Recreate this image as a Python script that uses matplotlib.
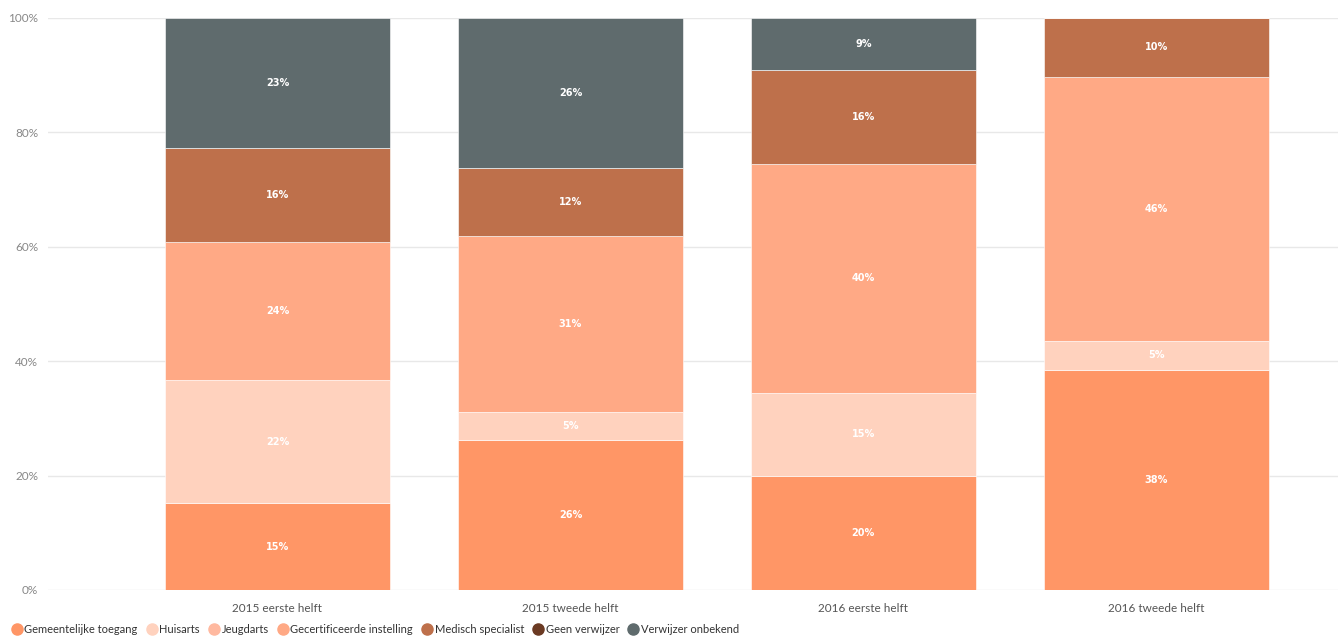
import matplotlib.pyplot as plt
from matplotlib.lines import Line2D
import numpy as np

plt.rcParams['font.family'] = ['Lato', 'DejaVu Sans']

# Data (shares per period, in %)
periods = ['2015 eerste helft', '2015 tweede helft', '2016 eerste helft', '2016 tweede helft']
series = ['Gemeentelijke toegang', 'Huisarts', 'Jeugdarts', 'Gecertificeerde instelling',
          'Medisch specialist', 'Geen verwijzer', 'Verwijzer onbekend']
gemeentelijke = [15.2, 26.2, 19.9, 38.5]
huisarts = [21.5, 4.9, 14.6, 5.0]
jeugdarts = [0, 0, 0, 0]
gecertificeerd = [24.1, 30.8, 40.0, 46.2]
medisch = [16.4, 11.9, 16.4, 10.3]
geen = [0, 0, 0, 0]
onbekend = [22.8, 26.2, 9.1, 0]
values = [gemeentelijke, huisarts, jeugdarts, gecertificeerd, medisch, geen, onbekend]

colors = ['#FF9666', '#FFD2BE', '#FFB9A0', '#FFA985', '#BE704B', '#6B3A23', '#5F6B6D']

fig = plt.figure(figsize=(13.38, 6.37), dpi=100)
ax = fig.add_axes([48 / 1338, 47 / 637, 1290 / 1338, 572 / 637])

x = np.arange(len(periods))
bottom = np.zeros(len(periods))
for vals, col in zip(values, colors):
    vals = np.array(vals, dtype=float)
    ax.bar(x, vals, width=0.768, bottom=bottom, color=col, edgecolor='white',
           linewidth=0.4, zorder=2)
    for xi, v, b in zip(x, vals, bottom):
        if v > 0:
            ax.text(xi, b + v / 2, f'{round(v):.0f}%', ha='center', va='center',
                    color='white', fontsize=7, fontweight='bold',
                    family='DejaVu Sans', zorder=3)
    bottom += vals

ax.set_xlim(-0.783, 3.62)
ax.set_ylim(0, 100)
ax.set_yticks([0, 20, 40, 60, 80, 100])
ax.set_yticklabels(['0%', '20%', '40%', '60%', '80%', '100%'])
ax.set_xticks(x)
ax.set_xticklabels(periods)
ax.grid(axis='y', color='#E8E8E8', linewidth=1, zorder=0)
for s in ax.spines.values():
    s.set_visible(False)
ax.tick_params(axis='both', length=0, colors='#888888', labelsize=8.5)
ax.tick_params(axis='y', pad=7)
ax.tick_params(axis='x', pad=9)
for lbl in ax.get_xticklabels():
    lbl.set_color('#555555')

handles = [Line2D([], [], marker='o', linestyle='', markersize=8, color=c) for c in colors]
fig.legend(handles, series, loc='lower left', bbox_to_anchor=(0.0, -0.006), ncol=7,
           frameon=False, fontsize=8, handletextpad=-0.3, columnspacing=0.25,
           labelcolor='#333333', borderaxespad=0.1)

fig.savefig('out.png', dpi=100, facecolor='white')
